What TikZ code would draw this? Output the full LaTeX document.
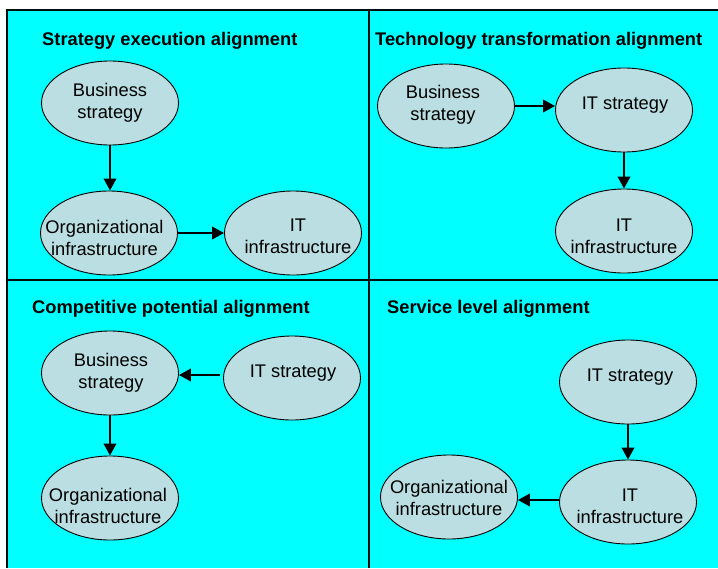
\documentclass[tikz,border=0pt]{standalone}
\usepackage{fontspec}
\setmainfont{Liberation Sans}
\usetikzlibrary{shapes.geometric,arrows.meta}
\definecolor{bgcyan}{RGB}{0,255,255}
\definecolor{ellfill}{RGB}{186,222,225}
\tikzset{
  ell/.style={ellipse,draw=black,line width=0.9pt,fill=ellfill,minimum width=137pt,minimum height=84pt,inner sep=0pt},
  lbl/.style={align=center,inner sep=0pt,font=\fontsize{18.3}{22}\selectfont},
  ttl/.style={anchor=base west,inner sep=0pt,font=\fontsize{18.3}{22}\selectfont\bfseries},
  arr/.style={line width=2.1pt,-{Triangle[length=12pt,width=12.5pt]}},
  frame/.style={line width=1.6pt,draw=black!90!teal}
}
\begin{document}
\begin{tikzpicture}[x=1pt,y=-1pt]
\useasboundingbox (0,0) rectangle (718,568);
\fill[white] (0,0) rectangle (718,568);
\fill[bgcyan] (7,10) rectangle (718,568);
\draw[frame] (7,568) -- (7,10) -- (718,10);
\draw[frame] (369,10) -- (369,568);
\draw[frame] (7,280) -- (718,280);

% Panel 1
\node[ttl] (t1) at (42,45) {Strategy execution alignment};
\node[ell] (bs1) at (110,103) {};
\node[lbl] (bs1t) at (110,103) {Business\\strategy};
\node[ell] (oi1) at (109,233) {};
\node[lbl] (oi1t) at (104.5,238) {Organizational\\infrastructure};
\node[ell] (iti1) at (293,233) {};
\node[lbl] (iti1t) at (298,236) {IT\\infrastructure};
\draw[arr] (bs1.south) -- (bs1.south |- oi1.north);
\draw[arr] (oi1.east) -- (iti1.west);

% Panel 2
\node[ttl] (t2) at (375,45) {Technology transformation alignment};
\node[ell] (bs2) at (446,106) {};
\node[lbl] (bs2t) at (443,105) {Business\\strategy};
\node[ell] (its2) at (624,110) {};
\node[lbl] (its2t) at (625,105) {IT strategy};
\node[ell] (iti2) at (624,231) {};
\node[lbl] (iti2t) at (624,236) {IT\\infrastructure};
\draw[arr] (bs2.east) -- (bs2.east -| its2.west);
\draw[arr] (its2.south) -- (iti2.north);

% Panel 3
\node[ttl] (t3) at (32,313) {Competitive potential alignment};
\node[ell] (bs3) at (110,373) {};
\node[lbl] (bs3t) at (111,373) {Business\\strategy};
\node[ell] (its3) at (292,378) {};
\node[lbl] (its3t) at (293,373) {IT strategy};
\node[ell] (oi3) at (110,498) {};
\node[lbl] (oi3t) at (108,506) {Organizational\\infrastructure};
\coordinate (c3) at ([xshift=-3pt,yshift=3pt]its3.west);
\draw[arr] (c3) -- (c3 -| bs3.east);
\draw[arr] (bs3.south) -- (oi3.north);

% Panel 4
\node[ttl] (t4) at (387,313) {Service level alignment};
\node[ell] (its4) at (628,382) {};
\node[lbl] (its4t) at (630,377) {IT strategy};
\node[ell] (iti4) at (628,502) {};
\node[lbl] (iti4t) at (630,506) {IT\\infrastructure};
\node[ell] (oi4) at (449,497) {};
\node[lbl] (oi4t) at (449,498) {Organizational\\infrastructure};
\draw[arr] (its4.south) -- (iti4.north);
\coordinate (c4) at ([yshift=2pt]iti4.west);
\draw[arr] (c4) -- (c4 -| oi4.east);
\end{tikzpicture}
\end{document}
